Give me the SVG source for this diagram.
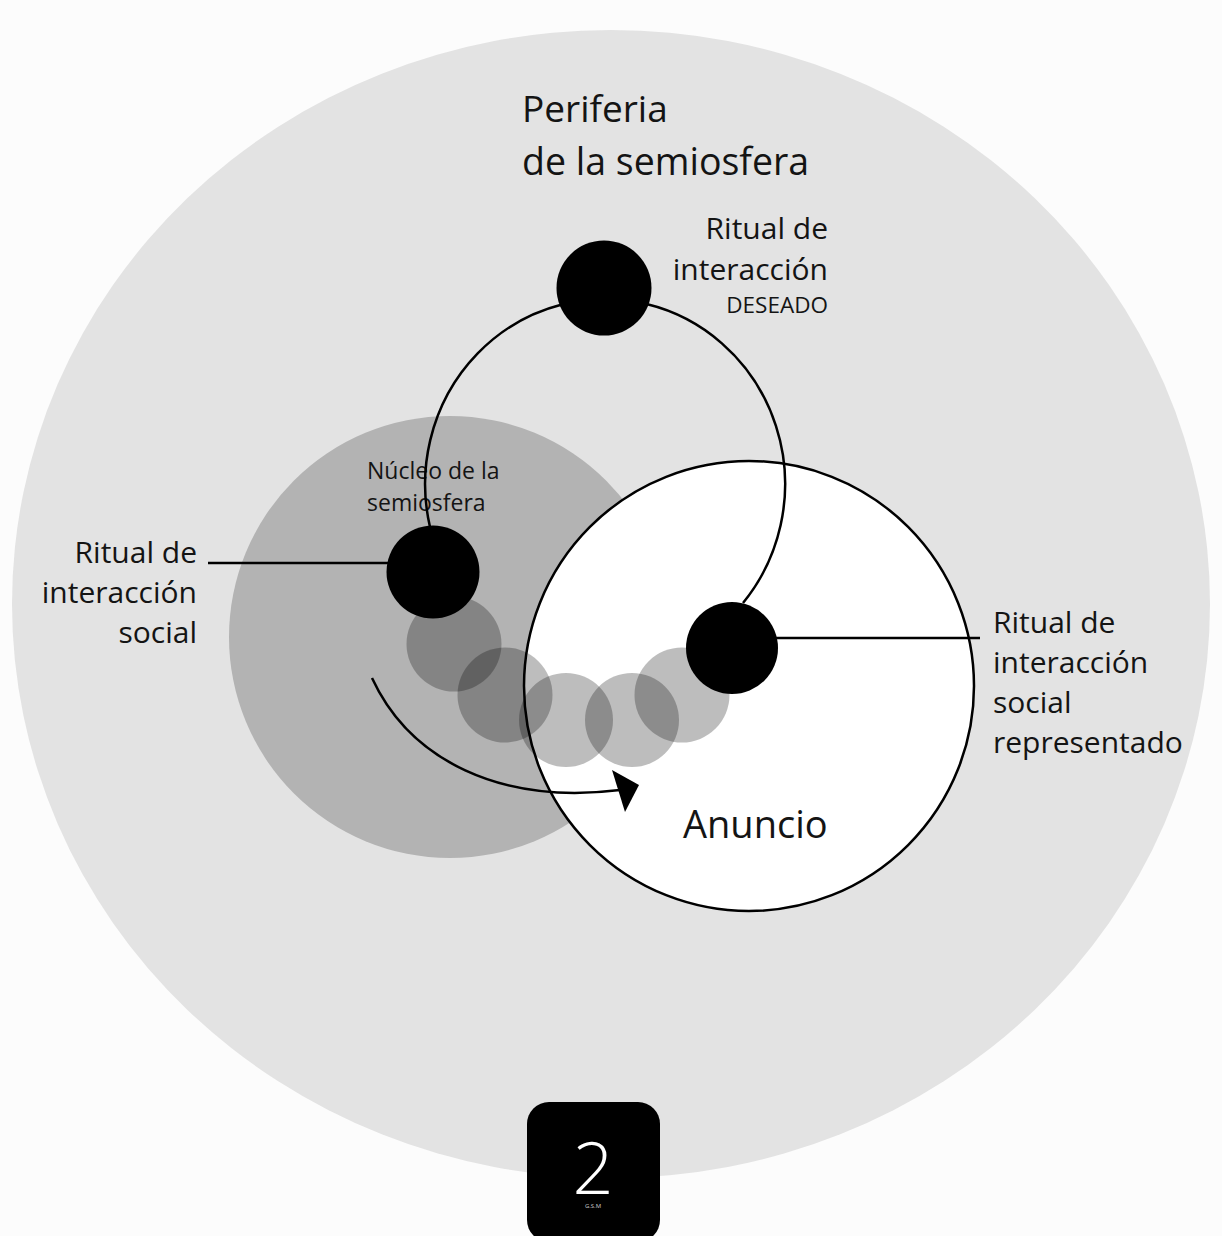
<svg xmlns="http://www.w3.org/2000/svg" width="1222" height="1236" viewBox="0 0 1222 1236">
  <style>
    .lbl { font-family: "Open Sans", "Noto Sans", sans-serif; fill: #141414; }
    .big { font-size: 30px; }
    .dot { fill: #000; }
    .ghost { fill: #000; fill-opacity: 0.26; }
    .conn { fill: none; stroke: #000; stroke-width: 2.5; }
  </style>
  <rect x="0" y="0" width="1222" height="1236" fill="#fcfcfc"/>

  <g id="periferia">
    <ellipse cx="611" cy="604" rx="599" ry="574" fill="#e3e3e3"/>
    <text class="lbl" x="522" y="122" font-size="37">Periferia</text>
    <text class="lbl" x="522" y="175" font-size="37.5">de la semiosfera</text>
  </g>

  <g id="nucleo">
    <circle cx="450" cy="637" r="221" fill="#b3b3b3"/>
    <text class="lbl" x="367" y="479" font-size="23">Núcleo de la</text>
    <text class="lbl" x="367" y="511" font-size="23">semiosfera</text>
  </g>

  <g id="anuncio">
    <circle cx="749" cy="686" r="225" fill="#ffffff" stroke="#000" stroke-width="2.5"/>
    <text class="lbl" x="683" y="838" font-size="38">Anuncio</text>
  </g>

  <g id="connectors">
    <path class="conn" d="M 430 527 A 180 185 0 1 1 743 603"/>
    <line class="conn" x1="208" y1="563" x2="400" y2="563" stroke-width="2"/>
    <line class="conn" x1="740" y1="638" x2="980" y2="638" stroke-width="2"/>
    <path class="conn" d="M 372 678 C 410 760 500 805 620 790"/>
    <polygon points="612,770 639,785 625,812" fill="#000"/>
  </g>

  <g id="trayecto">
    <circle class="ghost" cx="454" cy="644" r="47.5"/>
    <circle class="ghost" cx="505" cy="695" r="47.5"/>
    <circle class="ghost" cx="566" cy="720" r="47"/>
    <circle class="ghost" cx="632" cy="720" r="47"/>
    <circle class="ghost" cx="682" cy="695" r="47.5"/>
  </g>

  <g id="ritual-deseado">
    <circle class="dot" cx="604" cy="288" r="47.5"/>
    <text class="lbl big" x="828" y="239" text-anchor="end">Ritual de</text>
    <text class="lbl big" x="828" y="280" text-anchor="end">interacción</text>
    <text class="lbl" x="828" y="313" font-size="22.5" text-anchor="end">DESEADO</text>
  </g>

  <g id="ritual-social">
    <circle class="dot" cx="433" cy="572" r="46.5"/>
    <text class="lbl big" x="197" y="563" text-anchor="end">Ritual de</text>
    <text class="lbl big" x="197" y="603" text-anchor="end">interacción</text>
    <text class="lbl big" x="197" y="643" text-anchor="end">social</text>
  </g>

  <g id="ritual-representado">
    <circle class="dot" cx="732" cy="648" r="46"/>
    <text class="lbl big" x="993" y="633">Ritual de</text>
    <text class="lbl big" x="993" y="673">interacción</text>
    <text class="lbl big" x="993" y="713">social</text>
    <text class="lbl big" x="993" y="753">representado</text>
  </g>

  <g id="badge">
    <rect x="527" y="1102" width="133" height="140" rx="22" fill="#000"/>
    <text x="593" y="1194" font-family="Open Sans, Noto Sans, sans-serif" font-weight="300" font-size="72" fill="#fff" text-anchor="middle">2</text>
    <text x="593" y="1208" font-family="Open Sans, Noto Sans, sans-serif" font-size="6" fill="#ccc" text-anchor="middle">G.S.M</text>
  </g>
</svg>
